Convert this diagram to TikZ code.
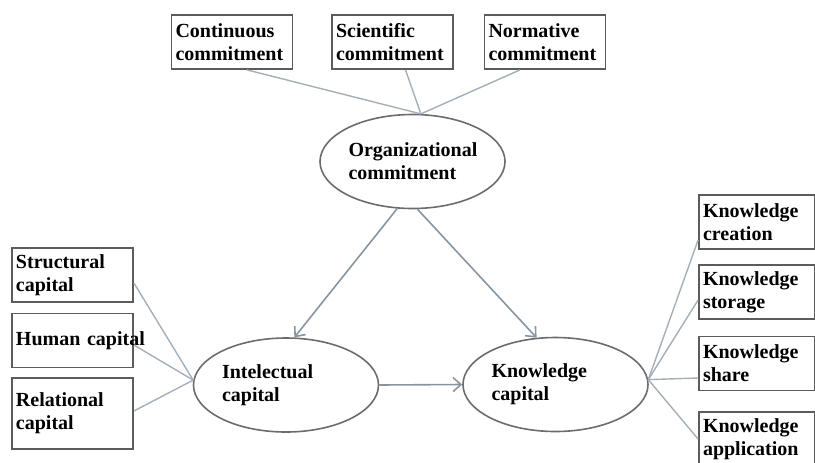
\documentclass[tikz,border=0pt]{standalone}
\usepackage{fontspec}
\setmainfont{Liberation Serif}
\usepackage{xcolor}
\usepackage{tikz}
\usetikzlibrary{shapes.geometric, arrows.meta, positioning, calc}
\definecolor{linkgray}{HTML}{A3AFBA}
\definecolor{flowgray}{HTML}{8795A3}
\definecolor{edgegray}{HTML}{5C5C5C}
\tikzset{
  dimbox/.style={rectangle, draw=edgegray, line width=0.9pt,
                 minimum width=60.5pt, text width=56.5pt, minimum height=27pt,
                 inner xsep=2pt, inner ysep=1pt, align=left,
                 font=\fontsize{10}{11.5}\selectfont\bfseries},
  knowbox/.style={dimbox, minimum width=58pt, text width=54pt},
  construct/.style={ellipse, draw=edgegray!90, line width=0.8pt,
                    minimum width=92.5pt, minimum height=47pt, inner sep=0pt,
                    text width=64pt, align=left,
                    font=\fontsize{10}{11.5}\selectfont\bfseries},
  link/.style={draw=linkgray, line width=0.7pt},
  effect/.style={-{Straight Barb[length=4pt, width=7pt]}, draw=flowgray, line width=0.8pt},
}
\begin{document}
\begin{tikzpicture}[x=0.5pt, y=-0.5pt]
  \useasboundingbox (0,0) rectangle (815,462);
  \clip (0,0) rectangle (815,462);

  % latent constructs
  \node (org) [construct] at (412.5,161.5) {Organizational\\commitment};
  \node (intel) [construct] at (286,385) {Intelectual\\capital};
  \node (know) [construct] at (555.5,384.5) {Knowledge\\capital};

  % dimensions
  \node (cont) [dimbox] at (232,42) {Continuous\\commitment};
  \node (sci) [dimbox] at (392.5,42) {Scientific\\commitment};
  \node (norm) [dimbox] at (545,42) {Normative\\commitment};
  \node (struct) [dimbox] at (72.5,275) {Structural\\capital};
  \node (human) [dimbox] at (72.5,340.5) {\mbox{Human capital}};
  \node (relat) [dimbox, minimum height=35.5pt] at (72.5,413.5) {Relational\\capital};
  \node (create) [knowbox] at (757,222) {Knowledge\\creation};
  \node (store) [knowbox] at (757,292) {Knowledge\\storage};
  \node (share) [knowbox] at (757,363.5) {Knowledge\\share};
  \node (apply) [knowbox] at (757,439) {Knowledge\\application};

  \draw[link] ($(cont.south)+(15,0)$) -- (org.80);
  \draw[link] ($(sci.south)+(13,0)$) -- (org.80);
  \draw[link] ($(norm.south)+(-25,0)$) -- (org.80);
  \draw[link] ($(struct.east)+(0,8)$) -- (intel.177);
  \draw[link] ($(human.east)+(0,4.5)$) -- (intel.177);
  \draw[link] ($(relat.east)+(0,-2.5)$) -- (intel.177);
  \draw[link] (know.3) -- ($(create.west)+(0,18)$);
  \draw[link] (know.3) -- ($(store.west)+(0,8)$);
  \draw[link] (know.3) -- ($(share.west)+(0,14.5)$);
  \draw[link] (know.3) -- (apply.west);

  \draw[effect] (org.252) -- (intel.80);
  \draw[effect] (org.276) -- (know.112);
  \draw[effect] (intel.east) -- (know.west);
\end{tikzpicture}
\end{document}
